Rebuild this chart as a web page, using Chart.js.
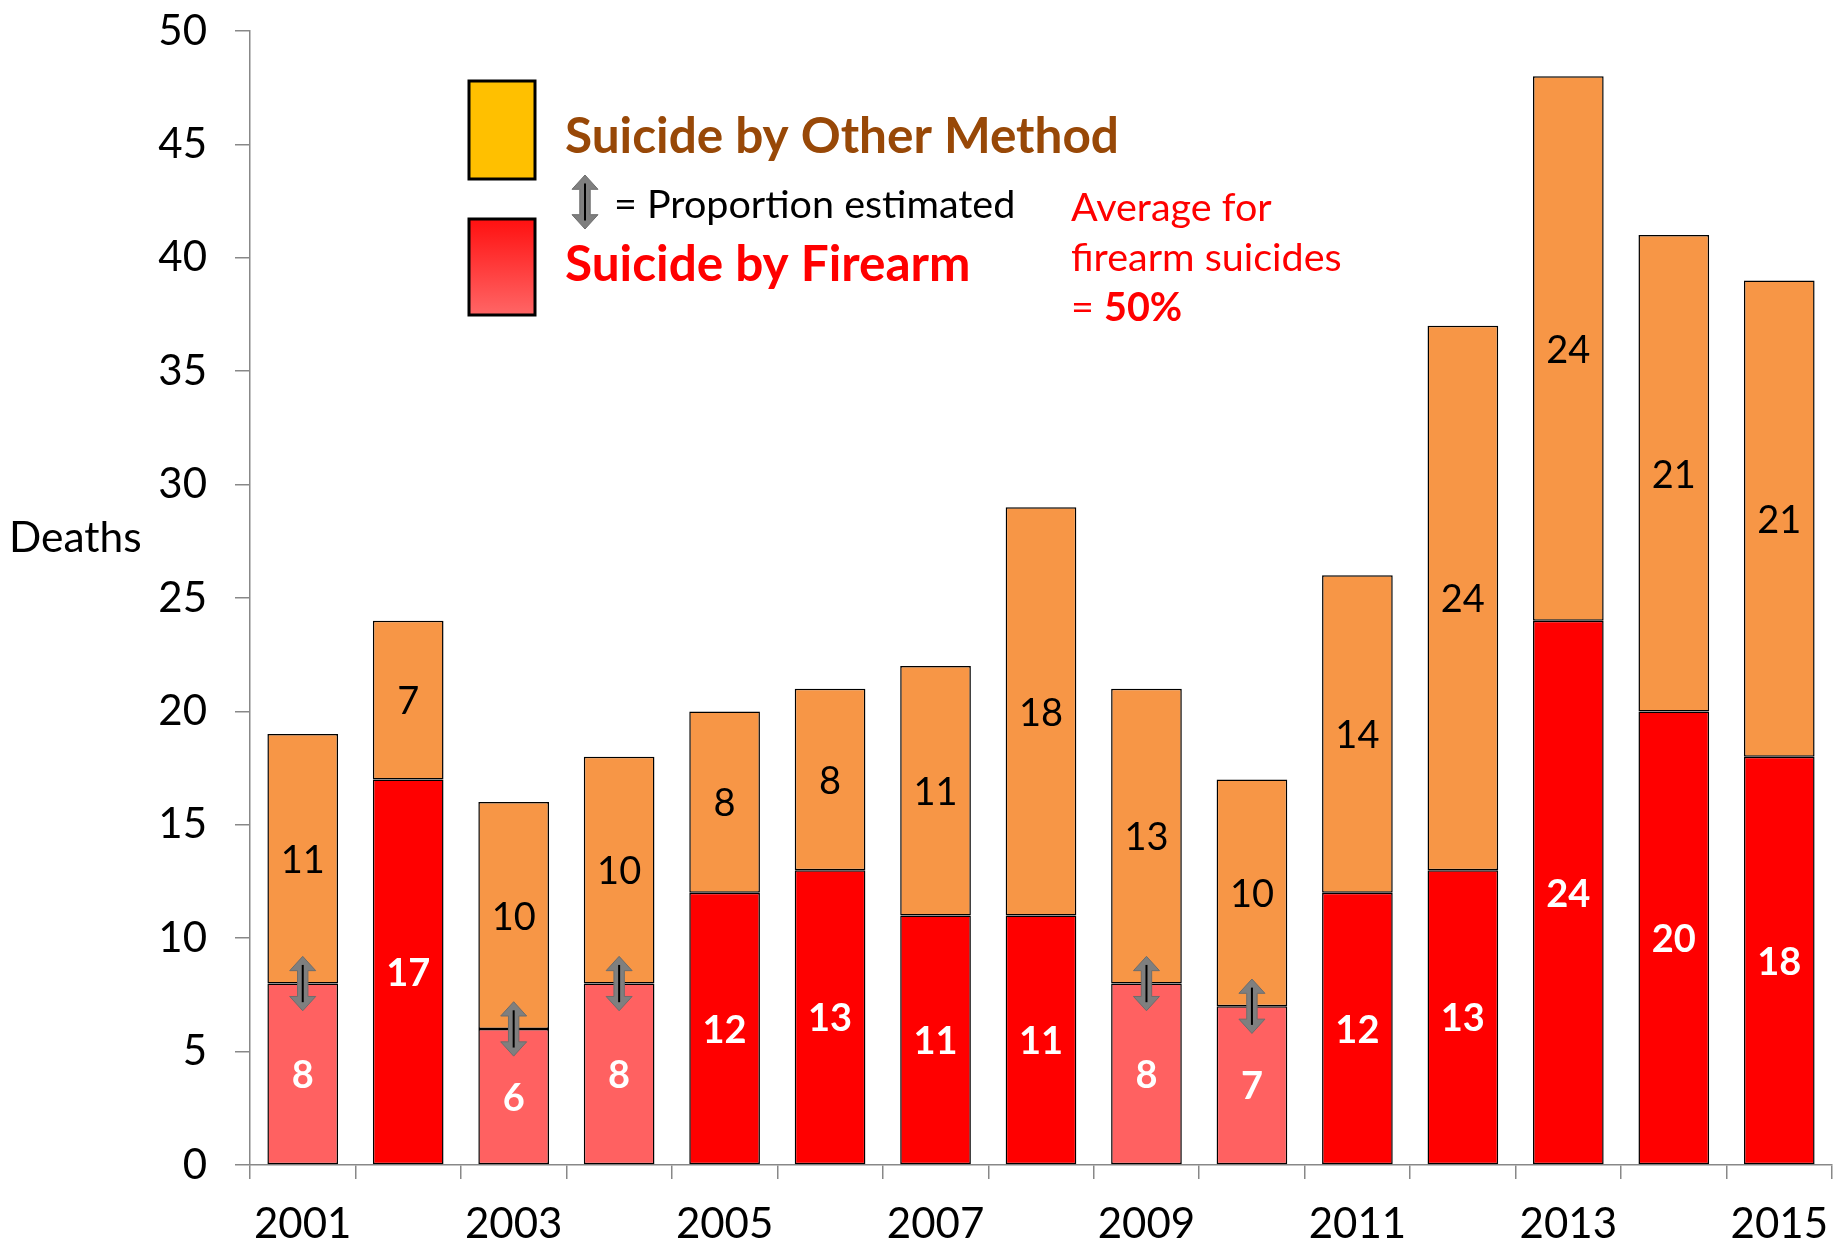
<!DOCTYPE html>
<html>
<head>
<meta charset="utf-8">
<script src="https://cdn.jsdelivr.net/npm/chart.js@4.4.1/dist/chart.umd.min.js"></script>
<style>
  html, body { margin: 0; padding: 0; background: #fff; }
  #wrap { width: 1845px; height: 1253px; }
</style>
</head>
<body>
<div id="wrap"><canvas id="chart" width="1845" height="1253"></canvas></div>
<script>
years = ['2001','2002','2003','2004','2005','2006','2007','2008','2009','2010','2011','2012','2013','2014','2015']
firearm = [8,17,6,8,12,13,11,11,8,7,12,13,24,20,18]
other = [11,7,10,10,8,8,11,18,13,10,14,24,24,21,21]
// years where the firearm share was estimated
estimated = [true,false,true,true,false,false,false,false,true,true,false,false,false,false,false]

const FONT = 'Lato, "Open Sans", sans-serif'
const RED = '#ff0000'
const RED_EST = '#ff6161'
const ORANGE = '#f79646'

function drawArrow(ctx, x, y1, y2, w) {
  // vertical double arrow, grey with a black core line
  const hw = w / 2, sw = w * 0.2, hh = w * 0.55
  ctx.save()
  ctx.beginPath()
  ctx.moveTo(x, y1)
  ctx.lineTo(x + hw, y1 + hh)
  ctx.lineTo(x + sw, y1 + hh)
  ctx.lineTo(x + sw, y2 - hh)
  ctx.lineTo(x + hw, y2 - hh)
  ctx.lineTo(x, y2)
  ctx.lineTo(x - hw, y2 - hh)
  ctx.lineTo(x - sw, y2 - hh)
  ctx.lineTo(x - sw, y1 + hh)
  ctx.lineTo(x - hw, y1 + hh)
  ctx.closePath()
  ctx.fillStyle = '#7f7f7f'
  ctx.fill()
  ctx.strokeStyle = '#6d6d6d'
  ctx.lineWidth = 1
  ctx.stroke()
  ctx.beginPath()
  ctx.moveTo(x, y1 + hh * 0.6)
  ctx.lineTo(x, y2 - hh * 0.6)
  ctx.strokeStyle = '#000'
  ctx.lineWidth = 2
  ctx.stroke()
  ctx.restore()
}

const barLabels = {
  id: 'barLabels',
  afterDatasetsDraw(chart) {
    const ctx = chart.ctx
    ctx.save()
    ctx.textAlign = 'center'
    ctx.textBaseline = 'middle'
    chart.data.datasets.forEach((ds, di) => {
      const meta = chart.getDatasetMeta(di)
      meta.data.forEach((bar, i) => {
        const p = bar.getProps(['x', 'y', 'base'], true)
        if (di == 0) {
          ctx.fillStyle = '#fff'
          ctx.font = 'bold 38px ' + FONT
        } else {
          ctx.fillStyle = '#000'
          ctx.font = '38px ' + FONT
        }
        ctx.fillText(ds.data[i], p.x, (p.y + p.base) / 2 + 2)
      })
    })
    // arrows for estimated proportions
    const y = chart.scales.y
    const meta0 = chart.getDatasetMeta(0)
    meta0.data.forEach((bar, i) => {
      if (!estimated[i]) return
      drawArrow(ctx, bar.x, y.getPixelForValue(firearm[i] + 1.2), y.getPixelForValue(firearm[i] - 1.2), 26)
    })
    ctx.restore()
  }
}

const notes = {
  id: 'notes',
  afterDraw(chart) {
    const ctx = chart.ctx
    ctx.save()
    ctx.textAlign = 'left'
    ctx.textBaseline = 'alphabetic'

    // legend boxes
    ctx.lineWidth = 3
    ctx.strokeStyle = '#000'
    ctx.fillStyle = '#ffc000'
    ctx.fillRect(469, 81, 66, 98)
    ctx.strokeRect(469, 81, 66, 98)
    const g = ctx.createLinearGradient(0, 219, 0, 315)
    g.addColorStop(0, '#ff1010')
    g.addColorStop(1, '#ff6666')
    ctx.fillStyle = g
    ctx.fillRect(469, 219, 66, 96)
    ctx.strokeRect(469, 219, 66, 96)

    ctx.font = 'bold 49.5px ' + FONT
    ctx.fillStyle = '#984807'
    ctx.fillText('Suicide by Other Method', 565, 153)
    ctx.fillStyle = RED
    ctx.fillText('Suicide by Firearm', 565, 281)

    ctx.font = '39.5px ' + FONT
    ctx.fillStyle = '#000'
    ctx.fillText('= Proportion estimated', 614, 218)
    drawArrow(ctx, 585, 175, 229, 26)

    ctx.fillStyle = RED
    ctx.font = '39.5px ' + FONT
    ctx.fillText('Average for', 1071, 221)
    ctx.fillText('firearm suicides', 1071, 271)
    ctx.fillText('= ', 1071, 321)
    const w = ctx.measureText('= ').width
    ctx.font = 'bold 39.5px ' + FONT
    ctx.fillText('50%', 1071 + w, 321)

    ctx.fillStyle = '#000'
    ctx.font = '42.5px ' + FONT
    ctx.fillText('Deaths', 9, 552)
    ctx.restore()
  }
}

new Chart('chart', {
  type: 'bar',
  data: {
    labels: years,
    datasets: [
      {
        label: 'Suicide by Firearm',
        data: firearm,
        backgroundColor: estimated.map(e => e ? RED_EST : RED),
        borderColor: '#000',
        borderWidth: 1.5,
        borderSkipped: false,
        barPercentage: 0.67,
        categoryPercentage: 1
      },
      {
        label: 'Suicide by Other Method',
        data: other,
        backgroundColor: ORANGE,
        borderColor: '#000',
        borderWidth: 1.5,
        borderSkipped: false,
        barPercentage: 0.67,
        categoryPercentage: 1
      }
    ]
  },
  options: {
    responsive: false,
    animation: false,
    layout: { padding: { left: 0, right: 13, top: 31, bottom: 0 } },
    plugins: {
      legend: { display: false },
      tooltip: { enabled: false }
    },
    scales: {
      x: {
        stacked: true,
        offset: true,
        grid: {
          offset: true,
          drawOnChartArea: false,
          drawTicks: true,
          tickLength: 14,
          color: '#888',
          lineWidth: 1.5
        },
        border: { color: '#888', width: 1.5 },
        ticks: {
          autoSkip: false,
          maxRotation: 0,
          padding: 20,
          color: '#000',
          font: { family: FONT, size: 42 },
          callback: function(v, i) { return i % 2 == 0 ? years[i] : '' }
        },
        afterFit: function(s) {
          s.height = 88
          s.paddingLeft = 0
          s.paddingRight = 0
        }
      },
      y: {
        stacked: true,
        min: 0,
        max: 50,
        grid: {
          drawOnChartArea: false,
          drawTicks: true,
          tickLength: 15,
          color: '#888',
          lineWidth: 1.5
        },
        border: { color: '#888', width: 1.5 },
        ticks: {
          stepSize: 5,
          padding: 28,
          color: '#000',
          font: { family: FONT, size: 42 }
        },
        afterFit: function(s) {
          s.width = 250
          s.paddingTop = 0
          s.paddingBottom = 0
        }
      }
    }
  },
  plugins: [barLabels, notes]
})
</script>
</body>
</html>
